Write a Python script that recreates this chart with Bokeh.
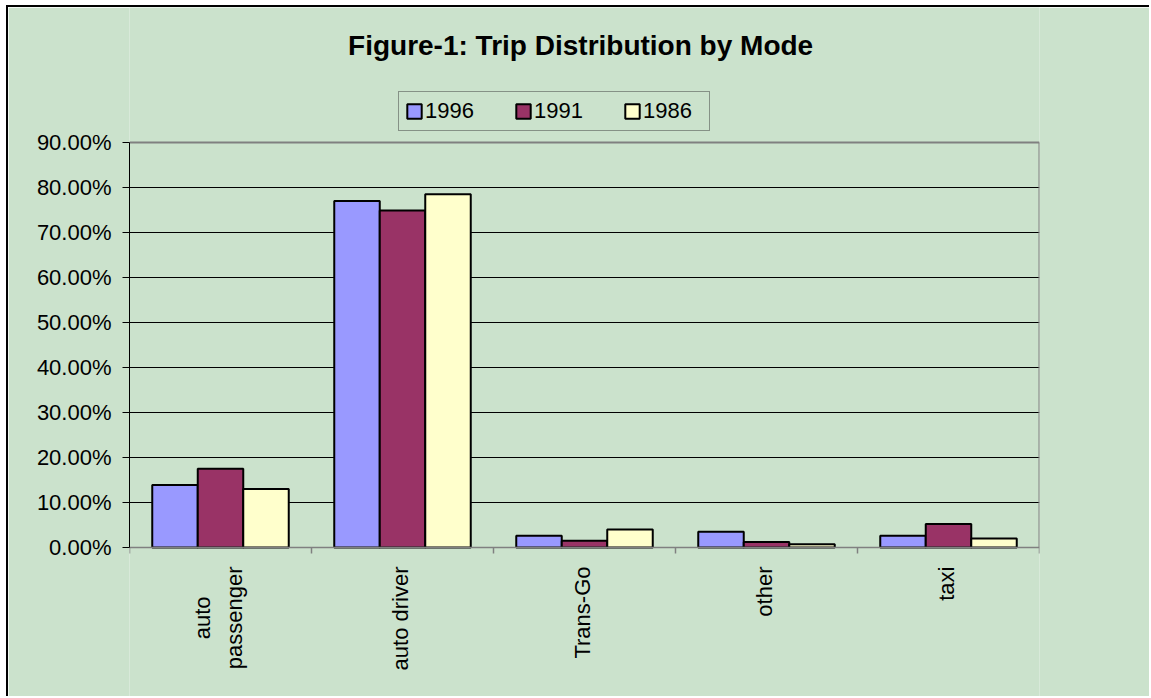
import math
from bokeh.plotting import figure
from bokeh.models import (Range1d, FixedTicker, PrintfTickFormatter, Legend, LegendItem,
                          ColumnDataSource, Label, LabelSet)
from bokeh.core.properties import value
from bokeh.embed import file_html
from bokeh.resources import INLINE

# ---- data ----
categories = ["auto passenger", "auto driver", "Trans-Go", "other", "taxi"]
tick_labels = ["auto\npassenger", "auto driver", "Trans-Go", "other", "taxi"]
years = ["1996", "1991", "1986"]
v1996 = [13.9, 77.0, 2.6, 3.5, 2.6]
v1991 = [17.5, 74.9, 1.5, 1.2, 5.2]
v1986 = [13.0, 78.5, 4.0, 0.7, 2.0]
y_ticks = [0, 10, 20, 30, 40, 50, 60, 70, 80, 90]
colors = ["#9999FF", "#993366", "#FFFFCC"]
title_text = "Figure-1: Trip  Distribution by Mode"

FONT = "Liberation Sans"
BG = "#CBE2CC"
AXIS_GREY = "#808080"
LABEL_PX = 22

# approximate Arial advance widths (em/1000), used to centre stacked label lines
ARIAL_W = dict(a=556, b=556, c=500, d=556, e=556, f=278, g=556, h=556, i=222, j=222,
               k=500, l=222, m=833, n=556, o=556, p=556, q=556, r=333, s=500, t=278,
               u=556, v=500, w=722, x=500, y=500, z=500)


def text_width(s):
    return sum(ARIAL_W.get(ch, 600) if ch != " " else 278 for ch in s) / 1000 * LABEL_PX


y_top = y_ticks[-1]
n = len(categories)

# layout: canvas 691 px tall, plot area 0..90 spans 405 px, 135 px above it,
# 151 px below it (room for category labels inside the frame)
H = 691
PX_PER_UNIT = 405 / y_top
y_max = y_top + 135 / PX_PER_UNIT
y_min = -(H - 135 - 405) / PX_PER_UNIT
tick_len = 6 / PX_PER_UNIT

p = figure(width=1143, height=H, output_backend="svg", toolbar_location=None,
           x_range=Range1d(0, n), y_range=Range1d(y_min, y_max),
           min_border_left=121, min_border_right=112, min_border_top=0,
           min_border_bottom=0)
p.background_fill_color = BG
p.border_fill_color = BG
p.outline_line_color = None
p.styles = {"margin-left": "6px", "margin-top": "5px",
            "border-left": "2px solid black", "border-top": "2px solid black"}
p.xaxis.visible = False

# grid
p.xgrid.grid_line_color = None
p.ygrid.ticker = FixedTicker(ticks=y_ticks[1:-1])
p.ygrid.grid_line_color = "black"
p.ygrid.grid_line_width = 1

# plot-area border (top and right)
p.segment(x0=[0, n], y0=[y_top, 0], x1=[n, n], y1=[y_top, y_top],
          line_color=AXIS_GREY, line_width=2)

series = [v1996, v1991, v1986]
offsets = [-0.25, 0.0, 0.25]
renderers = []
for vals, off, col in zip(series, offsets, colors):
    src = ColumnDataSource(dict(x=[i + 0.5 + off for i in range(n)], top=vals,
                                cat=categories))
    r = p.vbar(x="x", top="top", bottom=0, width=0.25, source=src,
               fill_color=col, line_color="black", line_width=2)
    renderers.append(r)

# category axis: line and tick marks at category boundaries
bounds = [float(i) for i in range(n + 1)]
p.segment(x0=[0], y0=[0], x1=[n], y1=[0], line_color=AXIS_GREY, line_width=1.5)
p.segment(x0=bounds, y0=[0] * len(bounds), x1=bounds, y1=[-tick_len] * len(bounds),
          line_color=AXIS_GREY, line_width=1.5)

# category labels: rotated, each stacked line centred within its block
centers = [i + 0.5 for i in range(n)]
lx, ly, lt, xo, yo = [], [], [], [], []
LINE_H = 31
STANDOFF = 19
for c, t in zip(centers, tick_labels):
    lines = t.split("\n")
    k = len(lines)
    wmax = max(text_width(s) for s in lines)
    for j, line in enumerate(lines):
        lx.append(c)
        ly.append(0)
        lt.append(line)
        xo.append((j - (k - 1) / 2) * LINE_H - 2)
        yo.append(-(STANDOFF + (wmax - text_width(line)) / 2))
cat_src = ColumnDataSource(dict(x=lx, y=ly, text=lt, xoff=xo, yoff=yo))
cat_labels = LabelSet(x="x", y="y", text="text", x_offset="xoff", y_offset="yoff",
                      source=cat_src, angle=math.pi / 2, text_align="right",
                      text_baseline="middle", text_font=value(FONT),
                      text_font_size=value(f"{LABEL_PX}px"), text_color="black")
p.add_layout(cat_labels)

# y axis
p.yaxis.bounds = (0, y_top)
p.yaxis.ticker = FixedTicker(ticks=y_ticks)
p.yaxis.formatter = PrintfTickFormatter(format="%.2f%%")
p.yaxis.axis_line_color = "black"
p.yaxis.axis_line_width = 1
p.yaxis.major_tick_out = 7
p.yaxis.major_tick_in = 0
p.yaxis.major_tick_line_color = "black"
p.yaxis.minor_tick_line_color = None
p.yaxis.major_label_standoff = 11
p.yaxis.major_label_text_font = FONT
p.yaxis.major_label_text_font_size = f"{LABEL_PX}px"
p.yaxis.major_label_text_color = "black"

# legend (frame-relative screen position)
legend = Legend(items=[LegendItem(label=y, renderers=[r]) for y, r in zip(years, renderers)],
                orientation="horizontal", location=(269, 567))
legend.glyph_width = 18
legend.glyph_height = 18
legend.label_standoff = 2
legend.label_width = 60
legend.spacing = 29
legend.padding = 6
legend.margin = 0
legend.label_text_font = FONT
legend.label_text_font_size = f"{LABEL_PX}px"
legend.label_text_color = "black"
legend.border_line_color = "#404040"
legend.border_line_width = 1.5
legend.background_fill_alpha = 0
p.add_layout(legend, "center")

# title
title = Label(x=n / 2, y=653, x_units="data", y_units="screen", text=title_text,
              text_align="center", text_baseline="alphabetic",
              text_font=FONT, text_font_size="28px", text_font_style="bold",
              text_color="black")
p.add_layout(title)

open("out.html", "w").write(file_html(p, INLINE))
